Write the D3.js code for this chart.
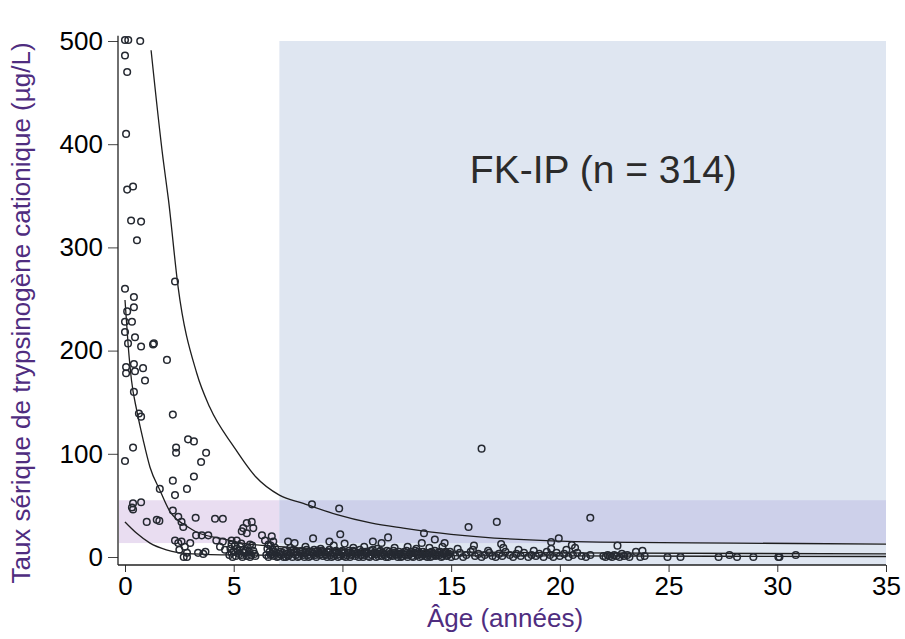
<!DOCTYPE html>
<html>
<head>
<meta charset="utf-8">
<script src="https://cdn.jsdelivr.net/npm/d3@7"></script>
<style>
  body { margin: 0; background: #fff; }
  svg text { font-family: "Liberation Sans", Arial, sans-serif; }
</style>
</head>
<body>
<div id="chart"></div>
<script>
// Ticks
const xTicks = [0, 5, 10, 15, 20, 25, 30, 35];
const yTicks = [0, 100, 200, 300, 400, 500];

// Zones (age, taux)
const zoneFK = [7.1, 35];          // rectangle bleu
const bandeNormale = [13.5, 55];   // bande violette

// Courbes (âge, taux)
const courbeHaute = [[1.2, 491], [1.75, 386], [2.0, 346], [2.44, 262], [3.3, 178], [3.9, 145],
  [5.0, 107], [6.0, 78], [7.1, 60], [8.2, 52], [9.75, 41], [11.3, 33], [12.8, 28], [15.0, 22],
  [21.85, 14.5], [28, 13.5], [35, 12.5]];
const courbeMilieu = [[0, 249], [0.15, 204], [0.3, 171], [0.54, 142], [0.84, 113], [1.15, 87], [1.6, 65],
  [2.07, 44], [2.4, 36], [2.68, 32], [3.3, 24], [4.4, 18], [5.4, 13.5], [7.1, 10], [10, 7], [15, 5],
  [20, 4], [35, 3]];
const courbeBasse = [[0, 34], [0.54, 23], [1.15, 13.5], [1.9, 7], [3.1, 3], [5, 2], [10, 1.5], [20, 1], [35, 0.5]];

// Points, enfants (valeurs hautes)
const pointsHauts = [[0.0, 501], [0.15, 501], [0.7, 500], [0.0, 486], [0.1, 470], [0.05, 410],
  [0.1, 356], [0.37, 359], [0.28, 326], [0.74, 325], [0.55, 307], [2.3, 267], [0.0, 260],
  [0.41, 252], [0.41, 242], [0.1, 238], [0.0, 228], [0.32, 228], [0.0, 218], [0.46, 213], [0.14, 207],
  [0.74, 204], [1.29, 206], [1.33, 207], [1.93, 191], [0.05, 184], [0.41, 187], [0.83, 183], [0.05, 178],
  [0.46, 180], [0.92, 171], [0.41, 160],
  [0.64, 139], [0.74, 136], [2.2, 138], [0.37, 106], [0.0, 93], [2.9, 114], [3.17, 112], [2.35, 106],
  [2.35, 101], [3.73, 101], [3.5, 92], [3.17, 78], [2.2, 74], [1.6, 66], [2.85, 66], [2.3, 60],
  [0.37, 52], [0.32, 48], [0.74, 53], [0.37, 46], [2.2, 45]];

// Points dans la bande, 0-7 ans
const pointsBande = [[1.0, 34], [1.46, 36], [1.58, 35], [2.45, 39], [2.6, 34], [2.68, 29], [3.25, 38],
  [4.14, 37], [4.5, 37], [3.27, 21], [3.53, 21], [3.83, 21], [4.2, 16], [4.5, 15], [4.37, 10], [4.6, 7],
  [4.9, 16], [5.14, 16], [5.44, 28], [5.6, 33], [5.83, 34], [5.9, 28], [5.37, 25], [5.6, 23],
  [6.3, 21], [6.44, 16], [6.75, 20], [6.82, 15],
  [2.3, 16], [2.45, 13.5], [2.6, 15], [3.0, 13.5], [2.75, 10], [2.5, 7], [2.85, 4], [2.7, 0], [2.85, 0],
  [3.36, 4], [3.7, 5], [3.6, 3]];

// Amas près de zéro, 4-7 ans
const pointsAmas = [[4.8, 2], [4.85, 8], [4.95, 0], [5.0, 5], [5.05, 11], [5.1, 1], [5.2, 6], [5.25, 3],
  [5.3, 10], [5.4, 0], [5.45, 7], [5.5, 4], [5.6, 1], [5.65, 9], [5.7, 5], [5.8, 2], [5.85, 11], [5.9, 6],
  [6.0, 1], [4.9, 12], [5.35, 13], [5.75, 12], [4.9, 4], [5.15, 8], [5.35, 2], [5.55, 6], [5.75, 0], [5.95, 3],
  [6.5, 2], [6.55, 8], [6.6, 0], [6.65, 5], [6.7, 11], [6.75, 3], [6.8, 7], [6.85, 1], [6.9, 9], [6.95, 4],
  [6.6, 12], [6.7, 2], [6.85, 5], [7.0, 0]];

// Adultes FK-IP, 7-15 ans (bande dense)
const pointsFK = [[7.05, 1], [7.15, 5], [7.2, 2], [7.3, 0], [7.35, 6], [7.45, 3], [7.5, 1], [7.6, 4], [7.7, 0],
  [7.75, 7], [7.85, 2], [7.9, 5], [8.0, 1], [8.1, 3], [8.15, 6], [8.25, 0], [8.3, 4], [8.4, 2], [8.5, 5],
  [8.55, 1], [8.65, 3], [8.7, 7], [8.8, 0], [8.9, 4], [8.95, 2], [9.05, 6], [9.1, 1], [9.2, 3], [9.3, 0],
  [9.35, 5], [9.45, 2], [9.55, 4], [9.6, 1], [9.7, 6], [9.8, 0], [9.85, 3], [9.95, 5], [10.05, 1], [10.1, 4],
  [10.2, 2], [10.3, 6], [10.35, 0], [10.45, 3], [10.55, 5], [10.6, 1], [10.7, 4], [10.8, 7], [10.85, 2],
  [10.95, 0], [11.05, 5], [11.1, 3], [11.2, 1], [11.3, 6], [11.35, 2], [11.45, 4], [11.55, 0], [11.6, 3],
  [11.7, 5], [11.8, 1], [11.85, 4], [11.95, 2], [12.05, 6], [12.1, 0], [12.2, 3], [12.3, 1], [12.4, 4],
  [12.45, 2], [12.55, 0], [12.65, 3], [12.75, 1], [12.85, 5], [12.9, 2], [13.0, 0], [13.1, 3], [13.2, 1],
  [13.3, 4], [13.35, 6], [13.45, 2], [13.55, 0], [13.6, 3], [13.7, 5], [13.8, 1], [13.85, 4], [13.95, 2],
  [14.05, 0], [14.1, 5], [14.2, 3], [14.3, 1], [14.4, 4], [14.45, 2], [14.55, 0], [14.65, 3], [14.75, 5],
  [14.8, 1], [14.9, 3], [15.0, 0],
  [7.6, 9], [8.3, 10], [9.0, 8], [9.6, 11], [10.5, 9], [11.0, 10], [11.6, 8], [12.4, 9], [13.0, 10],
  [13.4, 8], [14.0, 9], [14.6, 10]];

// Deuxième rangée de la bande dense, 7-15 ans
const pointsFK2 = [[7.1, 3], [7.25, 4], [7.4, 0], [7.55, 2], [7.65, 6], [7.8, 4], [7.95, 0], [8.05, 5],
  [8.2, 2], [8.35, 7], [8.45, 0], [8.6, 5], [8.75, 2], [8.85, 6], [9.0, 3], [9.15, 5], [9.25, 2], [9.4, 7],
  [9.5, 0], [9.65, 3], [9.75, 5], [9.9, 1], [10.0, 6], [10.15, 0], [10.25, 4], [10.4, 2], [10.5, 6],
  [10.65, 3], [10.75, 0], [10.9, 5], [11.0, 2], [11.15, 4], [11.25, 0], [11.4, 7], [11.5, 3], [11.65, 1],
  [11.75, 6], [11.9, 3], [12.0, 0], [12.15, 5], [12.25, 2], [12.35, 6], [12.5, 3], [12.6, 5], [12.7, 0],
  [12.8, 3], [12.95, 6], [13.05, 2], [13.15, 5], [13.25, 0], [13.4, 3], [13.5, 5], [13.65, 1], [13.75, 3],
  [13.9, 0], [14.0, 4], [14.15, 1], [14.25, 6], [14.35, 2], [14.5, 5], [14.6, 1], [14.7, 4], [14.85, 2],
  [14.95, 5]];

// Adultes FK-IP, valeurs isolées
const pointsIsoles = [[8.6, 51], [9.85, 47], [7.5, 15], [7.8, 13.5], [8.65, 18], [9.9, 22], [9.4, 15],
  [10.1, 13], [11.4, 15], [11.8, 13.5], [12.1, 19], [13.75, 23], [14.25, 17], [14.7, 13.5], [13.65, 13.5],
  [16.4, 105], [15.8, 29], [17.1, 34], [21.4, 38], [16.05, 11], [17.3, 12.5], [19.6, 14.5], [19.95, 18],
  [20.55, 11.5], [22.65, 11], [23.5, 5], [23.8, 6], [22.85, 3]];

// Adultes, 15-31 ans
const pointsAges = [[15.2, 1], [15.4, 4], [15.55, 0], [15.7, 2], [15.9, 5], [16.1, 1], [16.25, 3], [16.4, 0],
  [16.55, 2], [16.75, 4], [16.9, 1], [17.05, 0], [17.2, 3], [17.35, 1], [17.5, 5], [17.7, 2], [17.85, 0],
  [18.0, 3], [18.2, 1], [18.35, 4], [18.55, 0], [18.7, 2], [18.9, 1], [19.05, 3], [19.25, 0], [19.4, 5],
  [19.55, 2], [19.7, 0], [19.85, 4], [20.0, 1], [20.2, 3], [20.4, 0], [20.6, 2], [20.8, 4], [21.0, 1],
  [21.2, 0], [21.4, 2], [15.3, 8], [16.0, 7], [16.7, 6], [17.4, 9], [18.1, 7], [18.8, 6], [19.6, 8],
  [20.3, 7], [20.7, 9],
  [22.0, 1], [22.1, 0], [22.2, 2], [22.3, 1], [22.4, 0], [22.5, 2], [22.6, 1], [22.75, 0], [22.95, 1],
  [23.1, 2], [23.2, 0], [23.7, 0], [23.9, 1], [24.95, 0], [25.55, 0], [27.3, 0], [27.8, 2], [28.15, 0],
  [28.9, 0], [30.05, 0], [30.1, 0], [30.85, 2]];

const tousLesPoints = [...pointsHauts, ...pointsBande, ...pointsAmas, ...pointsFK, ...pointsFK2,
  ...pointsIsoles, ...pointsAges];


// Crea el gráfico
function crearGrafico() {

  const width = 905;
  const height = 639;
  const violet = '#4f2d7f';

  const svg = d3.select('#chart')
    .append('svg')
    .attr('width', width)
    .attr('height', height);

  // Échelles
  const xScale = d3.scaleLinear().domain([0, 35]).range([125, 886]);
  const yScale = d3.scaleLinear().domain([0, 500]).range([557, 41]);

  const axeX = 565;   // ligne de l'axe X
  const axeY = 118;   // ligne de l'axe Y

  // Zones colorées
  svg.append('rect')
    .attr('x', xScale(zoneFK[0]))
    .attr('y', yScale(500))
    .attr('width', xScale(zoneFK[1]) - xScale(zoneFK[0]))
    .attr('height', axeX - yScale(500))
    .attr('fill', '#dfe6f1');

  svg.append('rect')
    .attr('x', axeY + 1)
    .attr('y', yScale(bandeNormale[1]))
    .attr('width', xScale(zoneFK[0]) - axeY - 1)
    .attr('height', yScale(bandeNormale[0]) - yScale(bandeNormale[1]))
    .attr('fill', '#e9ddf1');

  svg.append('rect')
    .attr('x', xScale(zoneFK[0]))
    .attr('y', yScale(bandeNormale[1]))
    .attr('width', xScale(zoneFK[1]) - xScale(zoneFK[0]))
    .attr('height', yScale(bandeNormale[0]) - yScale(bandeNormale[1]))
    .attr('fill', '#cdd0ea');

  // Texte FK-IP
  svg.append('text')
    .attr('x', xScale(22.0))
    .attr('y', yScale(362))
    .attr('text-anchor', 'middle')
    .attr('font-size', 39)
    .attr('fill', '#2b2b2b')
    .text('FK-IP (n = 314)');

  // Courbes
  const linea = d3.line()
    .x(d => xScale(d[0]))
    .y(d => yScale(d[1]))
    .curve(d3.curveMonotoneX);

  [courbeHaute, courbeMilieu, courbeBasse].forEach(c => {
    svg.append('path')
      .datum(c)
      .attr('d', linea)
      .attr('fill', 'none')
      .attr('stroke', '#1e1e1e')
      .attr('stroke-width', 1.3);
  });

  // Points
  svg.append('g')
    .selectAll('circle')
    .data(tousLesPoints)
    .join('circle')
    .attr('cx', d => xScale(d[0]))
    .attr('cy', d => yScale(d[1]))
    .attr('r', 3.3)
    .attr('fill', 'none')
    .attr('stroke', '#252931')
    .attr('stroke-width', 1.5);

  // Axe Y
  const gy = svg.append('g')
    .attr('transform', `translate(${axeY},0)`)
    .call(d3.axisLeft(yScale).tickValues(yTicks).tickSize(10).tickPadding(5).tickSizeOuter(0));
  gy.select('.domain').remove();
  gy.selectAll('.tick line').attr('stroke', '#444');
  gy.selectAll('.tick text').attr('font-size', 26).attr('fill', '#000')
    .style('font-family', '"Liberation Sans", Arial, sans-serif');

  // Axe X
  const gx = svg.append('g')
    .attr('transform', `translate(0,${axeX})`)
    .call(d3.axisBottom(xScale).tickValues(xTicks).tickSize(7).tickPadding(5).tickSizeOuter(0));
  gx.select('.domain').remove();
  gx.selectAll('.tick line').attr('stroke', '#333');
  gx.selectAll('.tick text').attr('font-size', 26).attr('fill', '#000')
    .style('font-family', '"Liberation Sans", Arial, sans-serif');

  // Lignes des axes
  svg.append('line')
    .attr('x1', axeY).attr('x2', axeY)
    .attr('y1', yScale(505)).attr('y2', axeX)
    .attr('stroke', '#222').attr('stroke-width', 1.3);
  svg.append('line')
    .attr('x1', axeY).attr('x2', xScale(35))
    .attr('y1', axeX).attr('y2', axeX)
    .attr('stroke', '#222').attr('stroke-width', 1.6);

  // Titres
  svg.append('text')
    .attr('x', 505)
    .attr('y', 627)
    .attr('text-anchor', 'middle')
    .attr('font-size', 26)
    .attr('fill', violet)
    .text('Âge (années)');

  svg.append('text')
    .attr('transform', `translate(30,${313}) rotate(-90)`)
    .attr('text-anchor', 'middle')
    .attr('font-size', 26)
    .attr('fill', violet)
    .text('Taux sérique de trypsinogène cationique (µg/L)');
}

crearGrafico();
</script>
</body>
</html>
